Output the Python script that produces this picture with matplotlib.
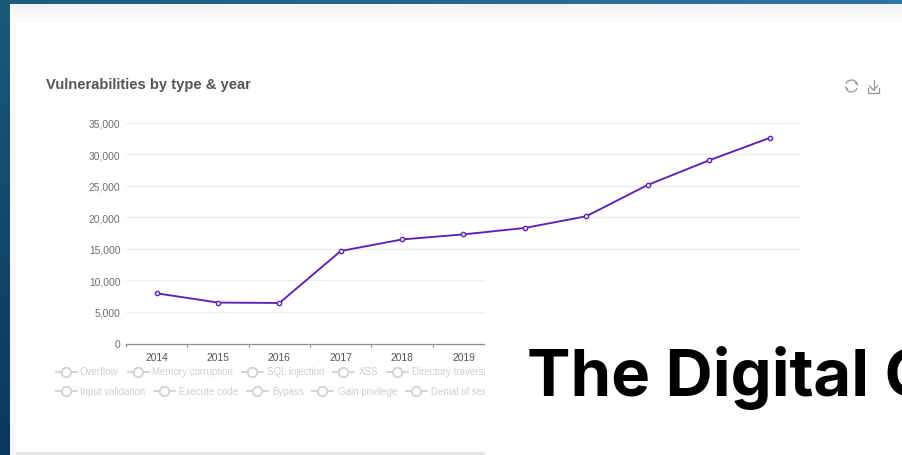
import numpy as np
import matplotlib
matplotlib.use("Agg")
import matplotlib.pyplot as plt
from matplotlib.patches import Rectangle, Arc
from matplotlib.lines import Line2D
from matplotlib.ticker import FuncFormatter

years = ["2014", "2015", "2016", "2017", "2018", "2019",
         "2020", "2021", "2022", "2023", "2024"]
shown_years = ["2014", "2015", "2016", "2017", "2018", "2019", "", "", "", "", ""]
totals = [7950, 6480, 6420, 14650, 16480, 17280, 18300, 20150, 25100, 29000, 32600]
y_ticks = [0, 5000, 10000, 15000, 20000, 25000, 30000, 35000]
legend_row1 = ["Overflow", "Memory corruption", "SQL injection", "XSS", "Directory traversal"]
legend_row2 = ["Input validation", "Execute code", "Bypass", "Gain privilege", "Denial of service"]

W, H = 902, 456
plt.rcParams["font.family"] = ["Liberation Sans", "DejaVu Sans"]
fig = plt.figure(figsize=(W / 100, H / 100), dpi=100, facecolor="white")


def pixel_axes(z):
    a = fig.add_axes([0, 0, 1, 1], zorder=z)
    a.set_xlim(0, W)
    a.set_ylim(H, 0)
    a.axis("off")
    a.patch.set_alpha(0)
    return a


# Page backdrop and the card behind the chart
bg = pixel_axes(0)
stops = np.array([[0.10, 0.36, 0.48], [0.18, 0.46, 0.65]])
t = np.linspace(0, 1, 256)[None, :, None]
top_band = stops[0] * (1 - t) + stops[1] * t
bg.imshow(top_band, extent=(0, W, 6, 0), aspect="auto", zorder=1)
s = np.linspace(0, 1, 64)[:, None, None]
left_band = np.array([0.10, 0.35, 0.47]) * (1 - s) + np.array([0.04, 0.22, 0.37]) * s
bg.imshow(left_band, extent=(0, 10, H, 5), aspect="auto", zorder=1)
bg.set_xlim(0, W)
bg.set_ylim(H, 0)
bg.add_patch(Rectangle((10, 5), W - 10, H - 5, fc="#f8f8f8", ec="none", zorder=2))
fade = np.linspace(0.95, 0.995, 32)[:, None, None] * np.ones((32, 1, 3))
bg.imshow(fade, extent=(10, W, 22, 5), aspect="auto", zorder=2.5)
bg.set_xlim(0, W)
bg.set_ylim(H, 0)
bg.add_patch(Rectangle((16, 23), W - 16, 430, fc="#ffffff", ec="none", zorder=3))
bg.add_patch(Rectangle((16, 453), W - 16, 3, fc="#e4e4e6", ec="none", zorder=3))
bg.text(46.5, 85.5, "Vulnerabilities by type & year", fontsize=10.65, fontweight="bold",
        color="#555555", va="center", ha="left", zorder=4)

# Main chart
left, right, top, bottom = 126, 801, 123.5, 344.5
ax = fig.add_axes([left / W, 1 - bottom / H, (right - left) / W, (bottom - top) / H], zorder=1)
ax.patch.set_alpha(0)
x = np.arange(len(years))
ax.plot(x, totals, color="#5f1fb4", lw=1.35, marker="o", ms=3.1, mfc="white",
        mec="#5f1fb4", mew=1.0, clip_on=False, zorder=3)
ax.set_xlim(-0.5, len(years) - 0.5)
ax.set_ylim(0, 35000)
ax.set_yticks(y_ticks)
ax.yaxis.set_major_formatter(FuncFormatter(lambda v, _: f"{int(v):,}"))
ax.set_xticks(x)
ax.set_xticklabels(shown_years)
ax.set_xticks(np.arange(len(years) + 1) - 0.5, minor=True)
ax.grid(axis="y", color="#ededf2", lw=0.9)
ax.set_axisbelow(True)
for side in ("top", "right", "left"):
    ax.spines[side].set_visible(False)
ax.spines["bottom"].set_color("#8f8f8f")
ax.spines["bottom"].set_linewidth(0.9)
ax.tick_params(axis="y", length=0, labelsize=7.4, labelcolor="#6e6e6e", pad=4)
ax.tick_params(axis="x", which="major", length=0, labelsize=7.4, labelcolor="#555555", pad=6)
ax.tick_params(axis="x", which="minor", length=2.5, width=0.8, color="#8f8f8f", direction="out")

# Legend entries, all in the switched-off state
fg = pixel_axes(2)
row1_pos = [(66, 80), (138, 152), (252, 267), (343, 359), (397, 412)]
row2_pos = [(66, 80), (164, 179), (257, 272), (322, 338), (416, 431)]
for names, places, yy in ((legend_row1, row1_pos, 372.5), (legend_row2, row2_pos, 392)):
    for name, (sx, tx) in zip(names, places):
        fg.add_line(Line2D([sx - 10.5, sx + 10.5], [yy, yy], color="#d2d2d2", lw=1.3))
        fg.add_line(Line2D([sx], [yy], marker="o", ms=6.8, mfc="white", mec="#d2d2d2", mew=1.3))
        fg.text(tx, yy, name, fontsize=7.05, color="#cfcfcf", va="center", ha="left")

# Refresh and download toolbar icons
icon = "#969696"
fg.add_patch(Arc((851.5, 87), 12, 12, theta1=200, theta2=340, color=icon, lw=0.9))
fg.add_patch(Arc((851.5, 87), 12, 12, theta1=20, theta2=160, color=icon, lw=0.9))
fg.add_line(Line2D([845.5, 847.5], [88, 90], color=icon, lw=0.9))
fg.add_line(Line2D([857.5, 855.5], [86, 84], color=icon, lw=0.9))
fg.add_line(Line2D([873.5, 873.5], [81, 91], color=icon, lw=0.9))
fg.add_line(Line2D([869.5, 873.5, 877.5], [87, 91, 87], color=icon, lw=0.9))
fg.add_line(Line2D([868, 868, 879, 879], [89, 93.5, 93.5, 89], color=icon, lw=0.9))

# White panel laid over the lower right of the card, with its headline
over = pixel_axes(3)
over.add_patch(Rectangle((485, 256), W - 485, H - 256, fc="white", ec="none"))
over.text(527, 396, "The Digital C", fontsize=47, fontweight="bold", color="black",
          family=["Inter", "DejaVu Sans"], va="baseline", ha="left", clip_on=True)

fig.savefig("out.png", dpi=100)
